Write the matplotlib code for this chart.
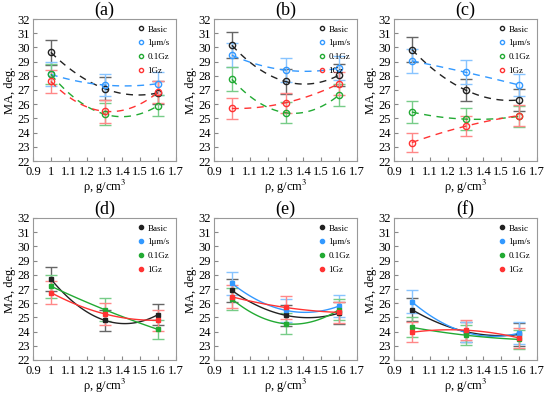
import numpy as np
import matplotlib
matplotlib.use('Agg')
import matplotlib.pyplot as plt

plt.rcParams['font.family'] = ['Liberation Serif', 'DejaVu Serif']
plt.rcParams['mathtext.fontset'] = 'stix'

rho = [1.0, 1.3, 1.6]
series = ['Basic', '1μm/s', '0.1Gz', '1Gz']
line_colors = ['#222222', '#3399ff', '#22aa33', '#ff3333']
err_colors = ['#666666', '#88c4ff', '#77cc88', '#ff8888']

# panel -> series values (None = no data)
ma_a = [[29.65, 27.1, 26.8], [28.1, 27.35, 27.45], [28.1, 25.3, 25.9], [27.6, 25.5, 26.85]]
err_a = [[0.9, 0.8, 0.8], [0.85, 0.8, 0.8], [0.7, 0.75, 0.75], [0.8, 0.8, 0.8]]
ma_b = [[30.15, 27.6, 28.05], [29.45, 28.4, 28.55], [27.75, 25.4, 26.65], [25.7, 26.1, 27.45]]
err_b = [[0.9, 0.9, 0.8], [0.85, 0.85, 0.85], [0.85, 0.75, 0.8], [0.75, 0.7, 0.8]]
ma_c = [[29.85, 27.0, 26.3], [29.05, 28.25, 27.35], [25.45, 24.95, 25.15], [23.3, 24.45, 25.2]]
err_c = [[0.9, 0.8, 0.8], [0.85, 0.85, 0.8], [0.75, 0.75, 0.75], [0.7, 0.7, 0.75]]
ma_d = [[27.7, 24.8, 25.2], None, [27.2, 25.55, 24.15], [26.75, 25.25, 24.8]]
err_d = [[0.85, 0.75, 0.75], None, [0.8, 0.8, 0.7], [0.8, 0.75, 0.75]]
ma_e = [[26.9, 25.15, 25.3], [27.4, 25.5, 25.8], [26.3, 24.55, 25.55], [26.45, 25.7, 25.35]]
err_e = [[0.8, 0.75, 0.75], [0.8, 0.8, 0.8], [0.75, 0.75, 0.75], [0.8, 0.8, 0.75]]
ma_f = [[25.55, 24.0, 23.8], [26.1, 23.95, 23.9], [24.3, 23.75, 23.45], [23.95, 24.1, 23.55]]
err_f = [[0.8, 0.7, 0.8], [0.8, 0.7, 0.75], [0.7, 0.7, 0.65], [0.7, 0.7, 0.7]]

panels = [('(a)', ma_a, err_a), ('(b)', ma_b, err_b), ('(c)', ma_c, err_c),
          ('(d)', ma_d, err_d), ('(e)', ma_e, err_e), ('(f)', ma_f, err_f)]

fig = plt.figure(figsize=(5.5, 3.98), dpi=100)
lefts = [33, 214, 394]
W, H = 550, 398
tops = [19, 218]
aw, ah = 143, 142

xs = np.linspace(1.0, 1.6, 100)
for i, (title, vals, errs) in enumerate(panels):
    row, col = divmod(i, 3)
    ax = fig.add_axes([lefts[col] / W, 1 - (tops[row] + ah) / H, aw / W, ah / H])
    top_row = row == 0
    for k, name in enumerate(series):
        v = vals[k]
        if v is None:
            ax.plot([], [], 'o', ms=3, color=line_colors[k], label=name)
            continue
        p = np.polyfit(rho, v, 2)
        ax.errorbar(rho, v, yerr=errs[k], fmt='none', ecolor=err_colors[k],
                    elinewidth=1, capsize=4, capthick=1, zorder=2)
        ax.plot(xs, np.polyval(p, xs), ls=(0, (5, 4)) if top_row else '-',
                color=line_colors[k], lw=1, zorder=3)
        if top_row:
            ax.plot(rho, v, 'o', ms=4.5, mfc='none', mec=line_colors[k], mew=1, zorder=4)
            ax.plot([], [], 'o', ms=3, mfc='none', mec=line_colors[k], label=name)
        else:
            ax.plot(rho, v, 's', ms=3, color=line_colors[k], zorder=4)
            ax.plot([], [], 'o', ms=3, color=line_colors[k], label=name)
    ax.set_xlim(0.9, 1.7)
    ax.set_ylim(22, 32)
    ax.set_xticks(np.arange(0.9, 1.71, 0.1))
    ax.set_xticklabels(['0.9', '1', '1.1', '1.2', '1.3', '1.4', '1.5', '1.6', '1.7'])
    ax.set_yticks(range(22, 33))
    ax.tick_params(direction='in', labelsize=9, length=3, color='#888888')
    ax.tick_params(axis='x', pad=3.5)
    ax.tick_params(axis='y', pad=2)
    for s in ax.spines.values():
        s.set_color('#999999')
    ax.set_title(title, fontsize=13, pad=3)
    ax.set_xlabel('ρ, g/cm$^3$', fontsize=9, labelpad=0)
    ax.set_ylabel('MA, deg.', fontsize=9, labelpad=1)
    ax.legend(loc='upper right', frameon=False, fontsize=6.5, handletextpad=0.2,
              handlelength=1, borderaxespad=0.3, labelspacing=0.6)

plt.savefig('out.png', dpi=100)
